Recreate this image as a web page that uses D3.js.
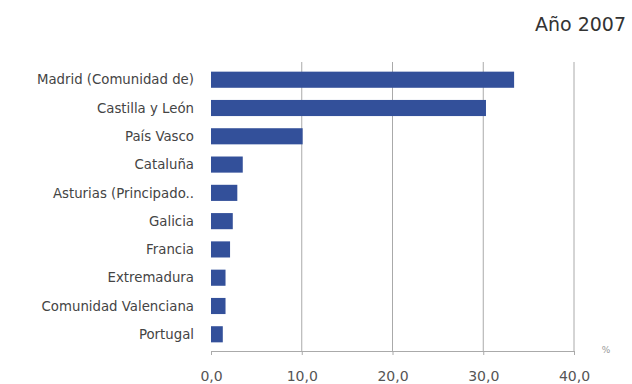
<!DOCTYPE html>
<html>
<head>
<meta charset="utf-8">
<script src="https://cdn.jsdelivr.net/npm/d3@7"></script>
<style>
  body { margin: 0; background: #fff; overflow: hidden; }
  svg { display: block; }
  text { font-family: "DejaVu Sans", Verdana, sans-serif; }
</style>
</head>
<body>
<svg id="chart"></svg>
<script>
const width = 632;
const height = 384;

// Data
const regions = [
  "Madrid (Comunidad de)",
  "Castilla y León",
  "País Vasco",
  "Cataluña",
  "Asturias (Principado..",
  "Galicia",
  "Francia",
  "Extremadura",
  "Comunidad Valenciana",
  "Portugal"
];
const percents = [33.4, 30.3, 10.1, 3.5, 2.9, 2.4, 2.1, 1.6, 1.6, 1.3];
const xTicks = [0, 10, 20, 30, 40];
const title = "Año 2007";

const svg = d3.select("#chart")
  .attr("width", width)
  .attr("height", height);

const margin = { top: 62, right: 58, bottom: 33, left: 211 };
const innerWidth = width - margin.left - margin.right;
const innerHeight = height - margin.top - margin.bottom;

const data = regions.map((r, i) => ({ region: r, value: percents[i] }));

const xScale = d3.scaleLinear().domain([0, 40]).range([0, innerWidth]);
const yScale = d3.scaleBand()
  .domain(regions)
  .range([4, innerHeight - 3])
  .paddingInner(0.43)
  .paddingOuter(0.2);

const g = svg.append("g")
  .attr("transform", `translate(${margin.left},${margin.top})`);

// Vertical gridlines
g.selectAll(".grid")
  .data(xTicks.filter(d => d > 0))
  .enter()
  .append("line")
  .attr("x1", d => xScale(d))
  .attr("x2", d => xScale(d))
  .attr("y1", 0)
  .attr("y2", innerHeight)
  .attr("stroke", "#aaa")
  .attr("stroke-width", 1);

// Bars
g.selectAll(".bar")
  .data(data)
  .enter()
  .append("rect")
  .attr("x", 0)
  .attr("y", d => yScale(d.region))
  .attr("width", d => xScale(d.value))
  .attr("height", yScale.bandwidth())
  .attr("fill", "#33509a");

// Category labels
g.selectAll(".label")
  .data(data)
  .enter()
  .append("text")
  .attr("x", -17)
  .attr("y", d => yScale(d.region) + yScale.bandwidth() / 2)
  .attr("dy", "0.35em")
  .attr("text-anchor", "end")
  .attr("fill", "#444")
  .style("font-size", "13.3px")
  .text(d => d.region);

// X axis
const xAxis = d3.axisBottom(xScale)
  .tickValues(xTicks)
  .tickSize(4)
  .tickPadding(16)
  .tickFormat(d => d3.format(".1f")(d).replace(".", ","));

const xAxisG = g.append("g")
  .attr("transform", `translate(0,${innerHeight})`)
  .call(xAxis);

xAxisG.select(".domain").attr("stroke", "#aaa");
xAxisG.selectAll(".tick line").attr("stroke", "#aaa");
xAxisG.selectAll("text")
  .attr("fill", "#555")
  .style("font-size", "14px");

// Unit label
g.append("text")
  .attr("x", innerWidth + 32)
  .attr("y", innerHeight + 2)
  .attr("text-anchor", "middle")
  .attr("fill", "#999")
  .style("font-size", "9px")
  .text("%");

// Title
svg.append("text")
  .attr("x", 626)
  .attr("y", 31)
  .attr("text-anchor", "end")
  .attr("fill", "#333")
  .style("font-size", "19px")
  .text(title);
</script>
</body>
</html>
